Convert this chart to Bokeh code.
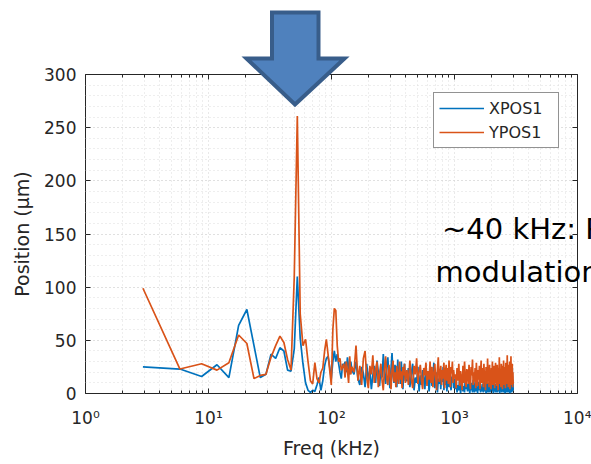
import numpy as np
from bokeh.plotting import figure
from bokeh.layouts import column
from bokeh.models import (FixedTicker, LogAxis, LinearAxis, Legend, LegendItem, Label,
                          CustomJSTickFormatter, Range1d)
from bokeh.embed import file_html
from bokeh.resources import INLINE

# ---------------- data ----------------
BIN_KHZ = 3000.0 / 1024.0          # FFT bin width (kHz)

# FFT bin indices of the plotted samples (dense part is decimated)
bins_low = list(range(1, 51))
bins_mid = list(range(52, 137, 2))
bins_hi = list(range(140, 341, 4))
bins_top = list(range(346, 1025, 6))

xpos1_low = [25, 23, 16, 27, 15, 64, 79, 45, 15, 18,
             37, 33, 43, 40, 22, 21, 42, 110, 52, 28,
             10, 3, 1, 3, 2, 8, 15, 3, 12, 26,
             33, 35, 25, 14, 30, 40, 30, 37, 28, 20,
             14, 28, 24, 30, 20, 34, 25, 18, 30, 22]
ypos1_low = [99, 23, 28, 22, 29, 55, 47, 14, 17, 18,
             34, 45, 54, 48, 32, 22, 110, 261, 75, 45,
             51, 30, 12, 9, 29, 14, 10, 20, 24, 40,
             51, 37, 22, 8, 60, 80, 78, 45, 30, 33,
             22, 25, 28, 15, 30, 22, 10, 35, 18, 25]

xpos1_mid = [18, 30, 14, 8, 25, 19, 6, 28, 12, 22,
             4, 17, 26, 10, 31, 20, 7, 24, 15, 37,
             18, 9, 28, 34, 14, 5, 23, 38, 16, 10,
             27, 20, 6, 32, 14, 24, 9, 30, 18, 4,
             22, 28, 12]
ypos1_mid = [20, 45, 12, 26, 8, 33, 40, 15, 5, 26,
             18, 36, 10, 22, 30, 6, 19, 28, 12, 3,
             24, 35, 14, 8, 27, 18, 4, 22, 31, 11,
             20, 6, 26, 16, 9, 30, 13, 21, 5, 25,
             17, 28, 10]

xpos1_hi = [12, 24, 6, 18, 28, 3, 15, 10, 25, 2,
            17, 8, 22, 14, 4, 26, 11, 19, 2, 13,
            24, 7, 16, 29, 5, 12, 20, 1, 14, 9,
            23, 4, 18, 11, 25, 3, 15, 8, 21, 2,
            13, 19, 6, 24, 10, 3, 16, 12, 20, 5,
            14]
ypos1_hi = [22, 8, 31, 14, 5, 26, 18, 33, 9, 20,
            27, 12, 4, 24, 17, 29, 7, 21, 13, 30,
            10, 25, 6, 19, 28, 15, 3, 23, 34, 11,
            18, 26, 8, 22, 14, 29, 5, 20, 27, 12,
            24, 9, 31, 16, 6, 25, 19, 30, 10, 22,
            14]

xpos1_top = [4, 12, 1, 8, 3, 14, 0, 6, 10, 2,
             7, 1, 15, 4, 9, 2, 5, 12, 0, 6,
             3, 10, 1, 13, 5, 1, 8, 16, 2, 6,
             0, 11, 3, 7, 12, 1, 5, 2, 9, 4,
             1, 14, 6, 2, 8, 0, 12, 5, 1, 7,
             10, 1, 6, 3, 15, 1, 8, 4, 2, 11,
             0, 5, 13, 2, 7, 1, 9, 3, 14, 1,
             4, 9, 2, 17, 4, 0, 7, 12, 2, 6,
             1, 10, 3, 14, 5, 1, 8, 2, 11, 0,
             6, 3, 16, 1, 9, 4, 1, 13, 3, 7,
             1, 11, 4, 0, 18, 6, 2, 10, 1, 5,
             24, 2, 13, 3]
ypos1_top = [18, 5, 24, 12, 28, 7, 21, 15, 3, 26,
             10, 30, 14, 6, 23, 19, 9, 27, 13, 4,
             25, 17, 32, 8, 20, 11, 24, 5, 29, 16,
             7, 22, 13, 26, 4, 19, 31, 10, 24, 15,
             6, 28, 12, 21, 3, 25, 18, 9, 33, 14,
             22, 6, 27, 11, 19, 4, 24, 16, 30, 8,
             21, 13, 26, 5, 18, 29, 10, 23, 7, 27,
             15, 3, 24, 12, 34, 9, 20, 17, 6, 28,
             14, 22, 4, 26, 11, 31, 8, 19, 25, 13,
             5, 29, 16, 23, 9, 36, 12, 21, 6, 27,
             18, 10, 30, 4, 24, 15, 35, 8, 22, 13,
             28, 6, 20, 9]

x_ticks = [1, 10, 100, 1000, 10000]
x_tick_labels = ["10⁰", "10¹", "10²", "10³", "10⁴"]
y_ticks = [0, 50, 100, 150, 200, 250, 300]

series_names = ["XPOS1", "YPOS1"]
note_lines = ["~40 kHz: RF", "modulation"]

# ---------------- main chart ----------------
bins = np.array(bins_low + bins_mid + bins_hi + bins_top, dtype=float)
freq = bins * BIN_KHZ
xpos1 = np.array(xpos1_low + xpos1_mid + xpos1_hi + xpos1_top, dtype=float)
ypos1 = np.array(ypos1_low + ypos1_mid + ypos1_hi + ypos1_top, dtype=float)

FONT = "DejaVu Sans"
AX = "#262626"
W, H = 591, 464

p = figure(width=W, height=H, x_axis_type="log",
           x_range=Range1d(1, 10000), y_range=Range1d(0, 300),
           output_backend="svg", toolbar_location=None,
           min_border_left=85, min_border_right=14, min_border_top=74, min_border_bottom=71,
           background_fill_color="white", border_fill_color="white")
p.outline_line_color = AX
p.outline_line_width = 1

minor_x = [m * 10 ** d for d in range(4) for m in range(2, 10)]
xticker = FixedTicker(ticks=x_ticks, minor_ticks=minor_x)
yticker = FixedTicker(ticks=y_ticks, minor_ticks=list(range(0, 301, 10)))

xa = p.below[0]
xa.ticker = xticker
xa.major_label_overrides = dict(zip(x_ticks, x_tick_labels))
xa.axis_label = "Freq (kHz)"
ya = p.left[0]
ya.ticker = yticker
ya.axis_label = "Position (μm)"

for a in (xa, ya):
    a.axis_line_color = None
    a.major_tick_in = 5
    a.major_tick_out = 0
    a.minor_tick_in = 3
    a.minor_tick_out = 0
    a.major_tick_line_color = AX
    a.minor_tick_line_color = AX if a is xa else None
    a.major_label_text_font = FONT
    a.major_label_text_font_size = "17px"
    a.major_label_text_color = AX
    a.axis_label_text_font = FONT
    a.axis_label_text_font_size = "19px"
    a.axis_label_text_font_style = "normal"
    a.axis_label_text_color = AX
xa.major_label_standoff = 14
xa.axis_label_standoff = 6
ya.major_label_standoff = 9
ya.axis_label_standoff = 8

blank = CustomJSTickFormatter(code="return ''")
top = LogAxis(ticker=xticker, formatter=blank, axis_line_color=None,
              major_tick_in=5, major_tick_out=0, minor_tick_in=3, minor_tick_out=0,
              major_tick_line_color=AX, minor_tick_line_color=AX, major_label_standoff=0)
right = LinearAxis(ticker=FixedTicker(ticks=y_ticks), formatter=blank, axis_line_color=None,
                   major_tick_in=5, major_tick_out=0, minor_tick_line_color=None,
                   major_tick_line_color=AX, major_label_standoff=0)
p.add_layout(top, "above")
p.add_layout(right, "right")

for g in (p.xgrid[0], p.ygrid[0]):
    g.grid_line_color = "#d2d2d2"
    g.grid_line_dash = "1 3"
    g.minor_grid_line_color = "#dcdcdc"
    g.minor_grid_line_dash = "1 3"

r1 = p.line(freq, xpos1, line_color="#0072BD", line_width=1.7)
r2 = p.line(freq, ypos1, line_color="#D95319", line_width=1.7)

legend = Legend(items=[LegendItem(label=series_names[0], renderers=[r1]),
                       LegendItem(label=series_names[1], renderers=[r2])],
                location=(348, 245), padding=5, spacing=4, margin=0,
                glyph_width=45, glyph_height=20, label_height=20, label_width=64,
                label_standoff=5, label_text_font=FONT, label_text_font_size="16px",
                label_text_color=AX, border_line_color=AX, border_line_width=1,
                background_fill_color="white", background_fill_alpha=1)
p.add_layout(legend)

# ---------------- slide overlay (arrow + note), in page pixels ----------------
ov = figure(width=W, height=H, x_range=Range1d(0, W), y_range=Range1d(H, 0),
            output_backend="svg", toolbar_location=None,
            x_axis_location=None, y_axis_location=None, min_border=0,
            background_fill_color=None, border_fill_color=None, outline_line_color=None)
ov.grid.visible = False
try:
    ov.frame_align = False
    p.frame_align = False
except Exception:
    # frames get aligned: map overlay x to the main frame's pixel span
    ov.x_range.start, ov.x_range.end = 85, 577

arrow_x = [271.5, 318, 318, 344, 294.5, 246, 271.5]
arrow_y = [12, 12, 58, 58, 104, 58, 58]
ov.patch(arrow_x, arrow_y, fill_color="#4F81BD", fill_alpha=1, line_color="#385D8A",
         line_width=4, line_join="miter")
for txt, tx, ty in ((note_lines[0], 441.5, 228.5), (note_lines[1], 435, 271)):
    ov.add_layout(Label(x=tx, y=ty, text=txt, text_font=FONT, text_font_size="29px",
                        text_color="black", text_align="left", text_baseline="alphabetic"))
ov.styles = {"margin-top": f"-{H}px", "position": "relative", "z-index": "2"}

layout = column(p, ov, spacing=0)
open("out.html", "w").write(file_html(layout, INLINE))
